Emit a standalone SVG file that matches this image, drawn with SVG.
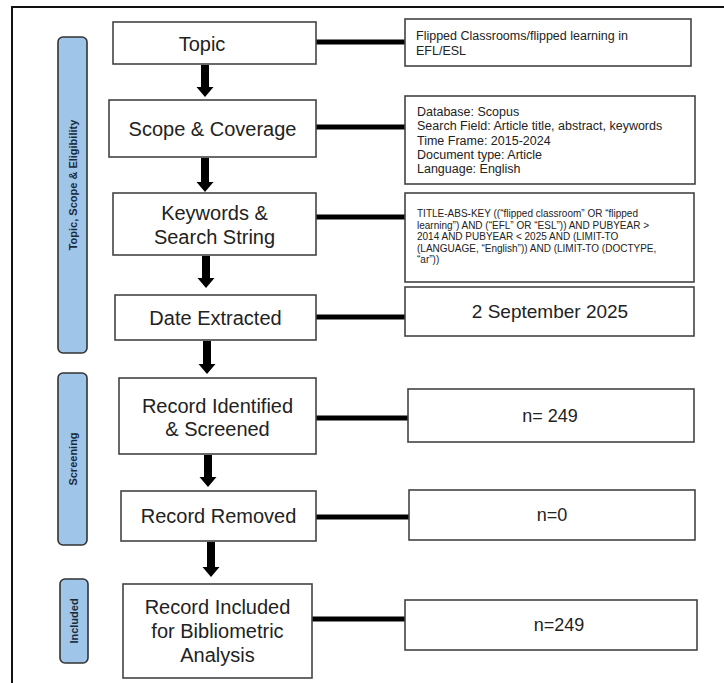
<svg xmlns="http://www.w3.org/2000/svg" width="724" height="683" viewBox="0 0 724 683">
<style>
.bg{fill:#ffffff}
.frame{fill:none;stroke:#111;stroke-width:2}
.box{fill:#ffffff;stroke:#444;stroke-width:1.6}
.phase{fill:#9fc5e8;stroke:#333;stroke-width:1.6}
.main{font-family:"Liberation Sans",Arial,sans-serif;font-size:20px;fill:#222;text-anchor:middle}
.small{font-family:"Liberation Sans",Arial,sans-serif;font-size:12.5px;fill:#222}
.tiny{font-family:"Liberation Sans",Arial,sans-serif;font-size:10px;fill:#222}
.val{font-family:"Liberation Sans",Arial,sans-serif;font-size:18px;fill:#222;text-anchor:middle}
.ph{font-family:"Liberation Sans",Arial,sans-serif;font-size:11px;font-weight:bold;fill:#1a2a3a;text-anchor:middle}
.conn{stroke:#000;stroke-width:5;fill:none}
.arrow{fill:#000}
</style>
<defs>
<path id="arr" d="M-4,0 H4 V-22 H8.5 L0,-32 L-8.5,-22 H-4 Z" transform="scale(1,-1)"/>
</defs>
<rect class="bg" x="0" y="0" width="724" height="683"/>
<path class="frame" d="M12,683 V7 H724"/>

<g id="connectors">
<line class="conn" x1="316" y1="42" x2="406" y2="42"/>
<line class="conn" x1="316" y1="127" x2="406" y2="127"/>
<line class="conn" x1="316" y1="217" x2="406" y2="217"/>
<line class="conn" x1="316" y1="317" x2="406" y2="317"/>
<line class="conn" x1="316" y1="418" x2="409" y2="418"/>
<line class="conn" x1="316" y1="517" x2="410" y2="517"/>
<line class="conn" x1="312" y1="619" x2="406" y2="619"/>
<path class="arrow" d="M201,65 H209 V87 H213.5 L205,97 L196.5,87 H201 Z"/>
<path class="arrow" d="M201,158 H209 V182 H213.5 L205,192 L196.5,182 H201 Z"/>
<path class="arrow" d="M202,256 H210 V278 H214.5 L206,288 L197.5,278 H202 Z"/>
<path class="arrow" d="M203,341 H211 V364 H215.5 L207,374 L198.5,364 H203 Z"/>
<path class="arrow" d="M204,455 H212 V477 H216.5 L208,487 L199.5,477 H204 Z"/>
<path class="arrow" d="M207,542 H215 V567 H219.5 L211,577 L202.5,567 H207 Z"/>
</g>

<g id="phase-topic">
<rect class="phase" x="58" y="37" width="29" height="316" rx="5"/>
<text class="ph" transform="translate(76.5,185) rotate(-90)">Topic, Scope &amp; Eligibility</text>
</g>
<g id="phase-screening">
<rect class="phase" x="58" y="373" width="29" height="172" rx="5"/>
<text class="ph" transform="translate(76.5,459) rotate(-90)">Screening</text>
</g>
<g id="phase-included">
<rect class="phase" x="60" y="579" width="28" height="84" rx="5"/>
<text class="ph" transform="translate(78,621) rotate(-90)">Included</text>
</g>

<g id="topic">
<rect class="box" x="113" y="22" width="203" height="42"/>
<text class="main" x="202" y="51">Topic</text>
</g>
<g id="scope">
<rect class="box" x="109" y="100" width="207" height="57"/>
<text class="main" x="212.5" y="136">Scope &amp; Coverage</text>
</g>
<g id="keywords">
<rect class="box" x="113" y="193" width="203" height="62"/>
<text class="main" x="214.5" y="220">Keywords &amp;</text>
<text class="main" x="214.5" y="244">Search String</text>
</g>
<g id="date">
<rect class="box" x="115" y="295" width="201" height="45"/>
<text class="main" x="215.5" y="325">Date Extracted</text>
</g>
<g id="identified">
<rect class="box" x="119" y="378" width="197" height="76"/>
<text class="main" x="217.5" y="413">Record Identified</text>
<text class="main" x="217.5" y="436">&amp; Screened</text>
</g>
<g id="removed">
<rect class="box" x="121" y="491" width="195" height="50"/>
<text class="main" x="218.5" y="523">Record Removed</text>
</g>
<g id="included">
<rect class="box" x="123" y="584" width="189" height="94"/>
<text class="main" x="217.5" y="614">Record Included</text>
<text class="main" x="217.5" y="638">for Bibliometric</text>
<text class="main" x="217.5" y="662">Analysis</text>
</g>

<g id="topic-detail">
<rect class="box" x="405" y="19" width="286" height="47"/>
<text class="small" x="416" y="40">Flipped Classrooms/flipped learning in</text>
<text class="small" x="416" y="55">EFL/ESL</text>
</g>
<g id="scope-detail">
<rect class="box" x="405" y="96" width="290" height="88"/>
<text class="small" x="417" y="116">Database: Scopus</text>
<text class="small" x="417" y="130.3">Search Field: Article title, abstract, keywords</text>
<text class="small" x="417" y="144.5">Time Frame: 2015-2024</text>
<text class="small" x="417" y="158.8">Document type: Article</text>
<text class="small" x="417" y="173">Language: English</text>
</g>
<g id="keywords-detail">
<rect class="box" x="405" y="193" width="289" height="89"/>
<text class="tiny" x="417" y="217">TITLE-ABS-KEY ((“flipped classroom” OR “flipped</text>
<text class="tiny" x="417" y="228.5">learning”) AND (“EFL” OR “ESL”)) AND PUBYEAR &gt;</text>
<text class="tiny" x="417" y="240">2014 AND PUBYEAR &lt; 2025 AND (LIMIT-TO</text>
<text class="tiny" x="417" y="251.5">(LANGUAGE, “English”)) AND (LIMIT-TO (DOCTYPE,</text>
<text class="tiny" x="417" y="263">“ar”))</text>
</g>
<g id="date-detail">
<rect class="box" x="405" y="287" width="289" height="49"/>
<text class="val" x="550" y="318" style="font-size:19px">2 September 2025</text>
</g>
<g id="identified-detail">
<rect class="box" x="408" y="389" width="286" height="53"/>
<text class="val" x="550" y="422">n= 249</text>
</g>
<g id="removed-detail">
<rect class="box" x="409" y="490" width="286" height="50"/>
<text class="val" x="552" y="521">n=0</text>
</g>
<g id="included-detail">
<rect class="box" x="405" y="600" width="292" height="50"/>
<text class="val" x="559" y="631">n=249</text>
</g>
</svg>
